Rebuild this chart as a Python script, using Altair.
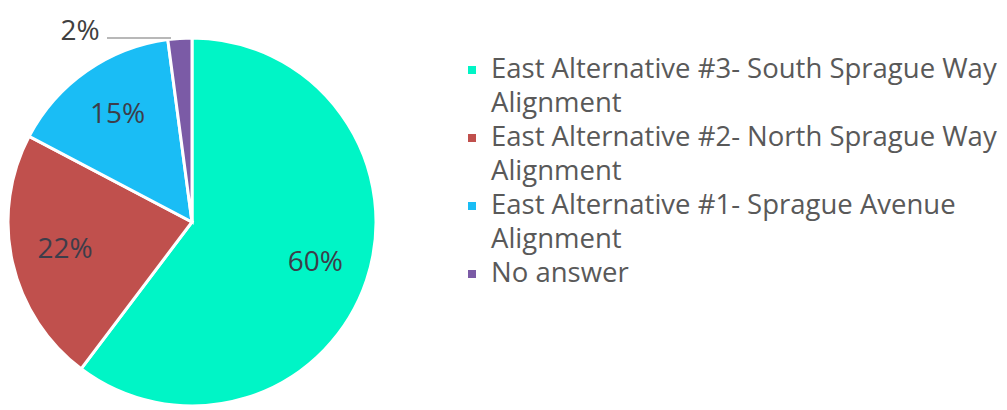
import textwrap
import altair as alt
import pandas as pd

# ---- data ----
categories = [
    "East Alternative #3- South Sprague Way Alignment",
    "East Alternative #2- North Sprague Way Alignment",
    "East Alternative #1- Sprague Avenue Alignment",
    "No answer",
]
shares = [60.3, 22.4, 15.2, 2.1]
colors = ["#00F5C6", "#C0504D", "#1ABDF5", "#7B5BA6"]

pie_df = pd.DataFrame({"category": categories, "share": shares, "ord": list(range(len(categories)))})
pie_df["label"] = [f"{round(v)}%" for v in shares]

rows = []
line = 0
for c in categories:
    for j, t in enumerate(textwrap.wrap(c, 38)):
        rows.append({"category": c, "text": t, "line": line, "first": j == 0})
        line += 1
leg_df = pd.DataFrame(rows)

FONT = "Open Sans"
CX, CY, R = 184, 214, 184

color = alt.Color("category:N", scale=alt.Scale(domain=categories, range=colors), legend=None)
theta = alt.Theta("share:Q", stack=True)
order = alt.Order("ord:Q")

base = alt.Chart(pie_df).transform_calculate(
    big="datum.share >= 5 ? datum.label : ''",
    small="datum.share < 5 ? datum.label : ''",
)

arcs = base.mark_arc(radius=R, stroke="white", strokeWidth=3).encode(
    theta=theta, order=order, color=color, x=alt.value(CX), y=alt.value(CY)
)

big_labels = base.mark_text(radius=130, fontSize=28, font=FONT, color="#3d3d4a").encode(
    theta=theta, order=order, text="big:N", x=alt.value(CX), y=alt.value(CY)
)

small_labels = base.mark_text(
    radius=195, dx=-99, dy=5, fontSize=28, font=FONT, color="#404040"
).encode(theta=theta, order=order, text="small:N", x=alt.value(CX), y=alt.value(CY))

leader = base.transform_filter("datum.share < 5").mark_rule(color="#A0A0A0", strokeWidth=1.5).encode(
    x=alt.value(99), x2=alt.value(163), y=alt.value(30)
)

yscale = alt.Scale(domain=[-1.8235, 9.941], reverse=True)
leg = alt.Chart(leg_df)
leg_text = leg.mark_text(align="left", baseline="middle", fontSize=27.5, font=FONT, color="#595959").encode(
    x=alt.value(483), y=alt.Y("line:Q", scale=yscale, axis=None), text="text:N"
)
leg_sym = leg.transform_filter("datum.first").mark_square(size=64, opacity=1).encode(
    x=alt.value(464), y=alt.Y("line:Q", scale=yscale, axis=None), color=color
)

chart = alt.layer(arcs, big_labels, small_labels, leader, leg_sym, leg_text).properties(
    width=991, height=400, autosize=alt.AutoSizeParams(type="none"), padding=0, background="white"
).configure_view(stroke=None)

chart.save("out.html", embed_options={"renderer": "svg", "actions": False})
